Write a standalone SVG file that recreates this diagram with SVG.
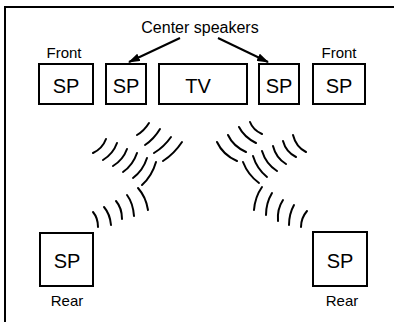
<svg xmlns="http://www.w3.org/2000/svg" width="394" height="322" viewBox="0 0 394 322">
<style>
.box{fill:#fff;stroke:#000;stroke-width:2}
.sp{font-family:"Liberation Sans",Arial,sans-serif;font-size:20px;fill:#000;text-anchor:middle}
.lbl{font-family:"Liberation Sans",Arial,sans-serif;font-size:15px;fill:#000;text-anchor:middle}
.wave{fill:none;stroke:#000;stroke-width:2;stroke-linecap:round}
.arrow{fill:none;stroke:#000;stroke-width:2}
</style>
<defs>
<marker id="ah" viewBox="0 0 12 8" refX="11" refY="4" markerWidth="6" markerHeight="4" orient="auto" markerUnits="strokeWidth">
<path d="M0,0 L12,4 L0,8 z" fill="#000"/>
</marker>
</defs>
<rect width="394" height="322" fill="#fff"/>
<path d="M5,322 V7 H394" fill="none" stroke="#000" stroke-width="2"/>
<text class="lbl" x="200" y="33" style="font-size:16px">Center speakers</text>
<g id="front-left">
<rect class="box" x="39" y="64" width="54" height="40"/>
<text class="lbl" x="64" y="58">Front</text>
<text class="sp" x="66" y="93">SP</text>
</g>
<g id="center-left">
<rect class="box" x="106" y="64" width="40" height="40"/>
<text class="sp" x="126" y="93">SP</text>
</g>
<g id="tv">
<rect class="box" x="159" y="64" width="88" height="40"/>
<text class="sp" x="198" y="93">TV</text>
</g>
<g id="center-right">
<rect class="box" x="259" y="64" width="40" height="40"/>
<text class="sp" x="279" y="93">SP</text>
</g>
<g id="front-right">
<rect class="box" x="313" y="64" width="52" height="40"/>
<text class="lbl" x="339" y="58">Front</text>
<text class="sp" x="339" y="93">SP</text>
</g>
<g id="rear-left">
<rect class="box" x="40" y="233" width="53" height="53"/>
<text class="sp" x="67" y="268">SP</text>
<text class="lbl" x="67" y="306">Rear</text>
</g>
<g id="rear-right">
<rect class="box" x="313" y="232" width="54" height="54"/>
<text class="sp" x="340" y="268">SP</text>
<text class="lbl" x="342" y="306">Rear</text>
</g>
<g id="connectors">
<path class="arrow" d="M180,38 L129,62" marker-end="url(#ah)"/>
<path class="arrow" d="M218,38 L268,62" marker-end="url(#ah)"/>
</g>
<g id="waves">
<path class="wave" d="M93,153 Q102.5,148.5 106,139"/>
<path class="wave" d="M103,160 Q113,154 117,143"/>
<path class="wave" d="M113,166 Q123,160 127,149"/>
<path class="wave" d="M123,172 Q133,165 137,153"/>
<path class="wave" d="M133,178 Q143,170.5 147,158"/>
<path class="wave" d="M142,185 Q152,176 156,162"/>
<path class="wave" d="M137,135 Q144,131 149,123"/>
<path class="wave" d="M145,145 Q154,139 160,129"/>
<path class="wave" d="M154,153 Q164,147 171,137"/>
<path class="wave" d="M163,161 Q174,154 182,142"/>
<path class="wave" d="M93,212 Q98,218 98,227"/>
<path class="wave" d="M104,207 Q110,214 111,225"/>
<path class="wave" d="M116,201 Q122,208 122,219"/>
<path class="wave" d="M127,195 Q133,203 134,216"/>
<path class="wave" d="M138,188 Q146,197 148,210"/>
<path class="wave" d="M250,122 Q253,130 262,134"/>
<path class="wave" d="M239,127 Q244,137 256,143"/>
<path class="wave" d="M228,135 Q233,146 246,152"/>
<path class="wave" d="M217,142 Q223,155 237,161"/>
<path class="wave" d="M243,162 Q248,175 259,183"/>
<path class="wave" d="M253,156 Q257,169 267,177"/>
<path class="wave" d="M262,151 Q266,164 277,171"/>
<path class="wave" d="M273,146 Q276,158 286,164"/>
<path class="wave" d="M283,141 Q286,152 296,157"/>
<path class="wave" d="M293,135 Q296,147 306,152"/>
<path class="wave" d="M262,187 Q255,197 254,210"/>
<path class="wave" d="M272,193 Q266,203 266,215"/>
<path class="wave" d="M283,200 Q277,209 278,221"/>
<path class="wave" d="M294,205 Q289,214 289,225"/>
<path class="wave" d="M307,211 Q301,218 301,227"/>
</g>
</svg>
